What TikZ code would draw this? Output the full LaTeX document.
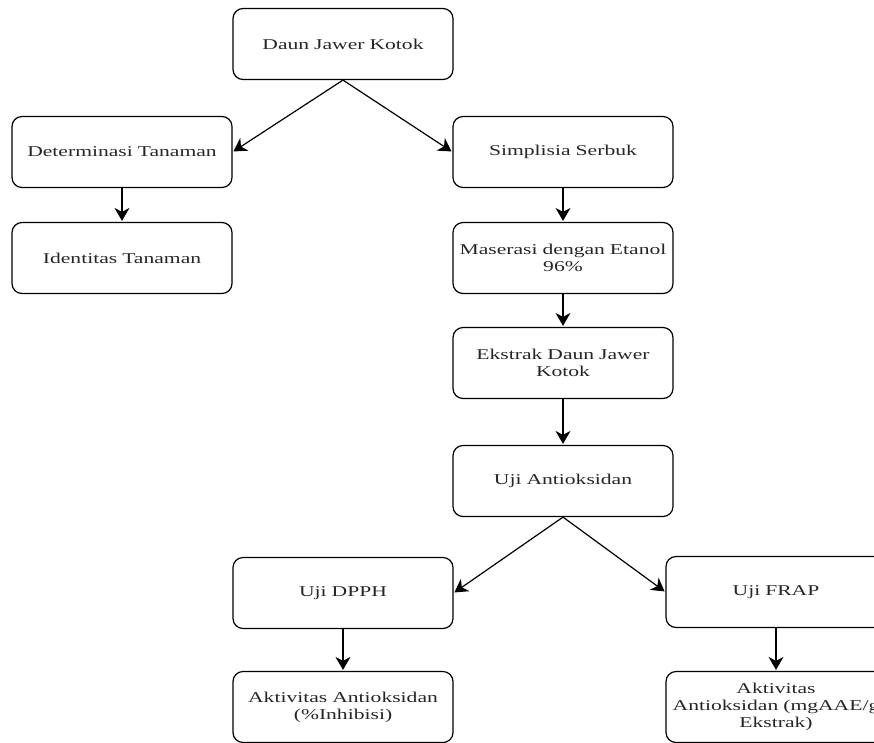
\documentclass[tikz,border=0pt]{standalone}
\usepackage{fontspec}
\setmainfont{Liberation Serif}[FakeStretch=1.44]
\usetikzlibrary{arrows.meta}

\begin{document}
\begin{tikzpicture}[x=1pt,y=-1pt,->,>={Stealth[length=13pt,width=15pt,inset=4pt]},shorten >=1pt,
                    line width=1.2pt,main node/.style={draw,rounded corners=10pt,minimum width=220pt,minimum height=71pt,
                    text width=212pt,inner sep=2pt,align=center,text=black!85,font=\fontsize{15}{17}\selectfont}]

  \useasboundingbox (0,0) rectangle (874,742);
  \clip (0,0) rectangle (874,742);

  \node[main node] (1) at (343,44) {Daun Jawer Kotok};
  \node[main node] (2) at (122,152) {Determinasi Tanaman};
  \node[main node] (3) at (122,258) {Identitas Tanaman};
  \node[main node] (4) at (563,152) {Simplisia Serbuk};
  \node[main node] (5) at (563,258) {Maserasi dengan Etanol\\96\%};
  \node[main node] (6) at (563,363) {Ekstrak Daun Jawer\\Kotok};
  \node[main node] (7) at (563,481) {Uji Antioksidan};
  \node[main node] (8) at (343,593) {Uji DPPH};
  \node[main node] (9) at (776,592) {Uji FRAP};
  \node[main node] (10) at (343,707) {Aktivitas Antioksidan\\(\%Inhibisi)};
  \node[main node] (11) at (776,707) {Aktivitas\\Antioksidan (mgAAE/g\\Ekstrak)};

  \path
    (1.south) edge (2.east)
              edge (4.west)
    (2) edge (3)
    (4) edge (5)
    (5) edge (6)
    (6) edge (7)
    (7.south) edge (8.east)
              edge (9.west)
    (8) edge (10)
    (9) edge (11);
\end{tikzpicture}
\end{document}
